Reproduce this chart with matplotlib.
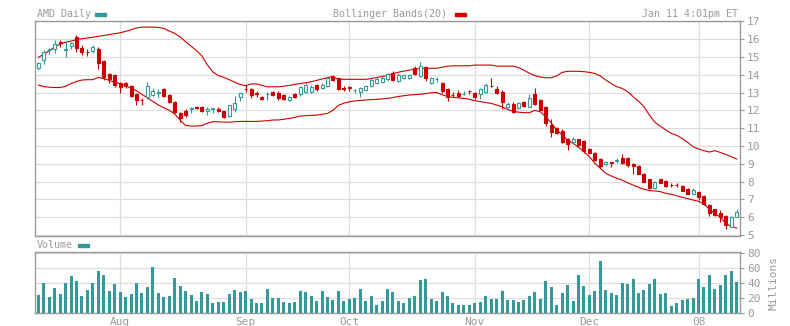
import matplotlib.pyplot as plt

# AMD daily candles, 11 Jul 2007 .. 11 Jan 2008 (one row per trading day)
opens = [14.39, 14.82, 15.36, 15.42, 15.82, 15.40, 15.63, 16.09, 15.50, 15.30,
         15.35, 15.42, 14.77, 14.04, 13.98, 13.51, 13.51, 13.38, 12.92, 12.60,
         12.77, 12.86, 12.98, 13.18, 12.86, 12.49, 11.86, 11.96, 12.08, 12.18,
         12.20, 11.96, 12.08, 12.10, 11.94, 11.68, 12.05, 12.73, 13.22, 13.18,
         12.97, 12.77, 12.90, 13.04, 12.95, 12.86, 12.58, 12.90, 12.90, 13.05,
         13.05, 13.42, 13.28, 13.36, 13.92, 13.79, 13.26, 13.30, 13.12, 13.05,
         13.14, 13.36, 13.51, 13.61, 13.74, 14.11, 13.64, 13.79, 13.80, 14.39,
         13.92, 14.45, 13.55, 13.75, 13.51, 13.18, 12.88, 12.95, 12.90, 13.10,
         12.99, 12.90, 13.05, 13.38, 13.18, 13.05, 12.17, 12.35, 12.11, 12.49,
         12.20, 12.89, 12.58, 12.20, 11.18, 10.99, 10.86, 10.37, 10.22, 10.37,
         10.30, 9.85, 9.63, 9.27, 8.97, 9.08, 9.16, 9.31, 9.31, 8.97,
         8.88, 8.43, 8.13, 7.66, 8.13, 8.06, 7.83, 7.84, 7.76, 7.57,
         7.29, 7.44, 7.20, 6.69, 6.45, 6.22, 6.07, 5.48, 6.04]
highs = [14.73, 15.38, 15.51, 15.94, 15.94, 15.91, 15.85, 16.21, 15.64, 15.42,
         15.66, 15.57, 14.80, 14.07, 14.04, 13.60, 13.60, 13.42, 12.95, 12.71,
         13.59, 13.27, 13.18, 13.23, 12.90, 12.54, 11.90, 12.10, 12.20, 12.25,
         12.26, 12.20, 12.15, 12.20, 11.97, 12.28, 12.80, 13.00, 13.42, 13.23,
         13.10, 12.80, 13.04, 13.06, 13.10, 12.90, 12.80, 12.95, 13.36, 13.51,
         13.42, 13.48, 13.55, 13.85, 13.94, 13.83, 13.36, 13.38, 13.20, 13.30,
         13.42, 13.85, 13.85, 13.92, 14.11, 14.20, 14.07, 14.04, 14.04, 14.48,
         14.73, 14.48, 13.85, 13.85, 13.60, 13.23, 13.05, 13.14, 13.10, 13.14,
         13.05, 13.23, 13.51, 13.79, 13.36, 13.14, 12.49, 12.49, 12.46, 12.54,
         12.89, 13.27, 12.64, 12.25, 11.50, 11.05, 10.93, 10.43, 10.49, 10.41,
         10.34, 9.89, 9.68, 9.31, 9.18, 9.08, 9.31, 9.55, 9.40, 9.07,
         8.92, 8.47, 8.17, 8.06, 8.17, 8.09, 7.94, 7.94, 7.81, 7.63,
         7.63, 7.48, 7.24, 6.73, 6.49, 6.41, 6.11, 6.07, 6.49]
lows = [14.26, 14.60, 15.16, 15.23, 15.57, 14.97, 15.42, 15.29, 15.10, 15.05,
        15.23, 14.30, 13.70, 13.55, 13.29, 13.00, 13.23, 12.77, 12.30, 12.30,
        12.64, 12.80, 12.73, 12.73, 12.43, 11.83, 11.35, 11.60, 11.85, 12.05,
        11.92, 11.75, 11.85, 11.90, 11.55, 11.64, 11.93, 12.55, 13.04, 12.71,
        12.77, 12.58, 12.60, 12.80, 12.60, 12.58, 12.54, 12.70, 12.82, 12.95,
        12.95, 13.10, 13.18, 13.33, 13.64, 13.14, 13.10, 13.10, 13.00, 12.76,
        13.09, 13.33, 13.46, 13.55, 13.64, 13.64, 13.60, 13.74, 13.74, 13.98,
        13.85, 13.64, 13.48, 13.60, 12.99, 12.54, 12.73, 12.76, 12.84, 12.90,
        12.64, 12.64, 12.95, 13.29, 12.90, 12.05, 12.11, 11.87, 12.05, 12.20,
        12.17, 12.30, 11.96, 11.14, 10.49, 10.67, 10.15, 9.78, 10.15, 9.96,
        9.63, 9.59, 9.16, 8.75, 8.88, 8.80, 9.03, 8.99, 8.80, 8.43,
        8.41, 7.96, 7.59, 7.59, 7.91, 7.68, 7.68, 7.68, 7.48, 7.29,
        7.25, 6.97, 6.69, 6.07, 6.07, 5.76, 5.33, 5.44, 6.00]
closes = [14.67, 15.29, 15.46, 15.70, 15.78, 15.43, 15.76, 15.48, 15.29, 15.27,
          15.53, 14.67, 13.85, 13.74, 13.42, 13.29, 13.36, 12.82, 12.58, 12.56,
          13.38, 13.08, 13.00, 12.80, 12.49, 11.89, 11.58, 11.74, 12.12, 12.15,
          11.98, 12.10, 12.12, 11.95, 11.62, 12.28, 12.39, 13.00, 13.17, 12.86,
          12.93, 12.62, 12.94, 12.86, 12.70, 12.64, 12.73, 12.77, 13.33, 13.42,
          13.33, 13.18, 13.45, 13.79, 13.70, 13.18, 13.21, 13.26, 13.15, 13.24,
          13.36, 13.70, 13.74, 13.83, 14.04, 13.70, 13.98, 13.98, 13.98, 14.04,
          14.50, 13.79, 13.79, 13.78, 13.10, 12.73, 12.84, 12.80, 12.93, 13.06,
          12.73, 13.18, 13.42, 13.34, 12.99, 12.49, 12.34, 11.92, 12.39, 12.24,
          12.67, 12.35, 12.02, 11.27, 10.80, 10.71, 10.21, 10.11, 10.37, 10.06,
          9.74, 9.63, 9.21, 8.90, 9.12, 9.03, 9.20, 9.03, 8.93, 8.88,
          8.43, 8.00, 7.66, 8.00, 7.94, 7.76, 7.80, 7.80, 7.50, 7.31,
          7.53, 7.12, 6.75, 6.26, 6.13, 6.00, 5.57, 6.00, 6.32]

# Bollinger Bands(20)
upper_band = [14.97, 15.14, 15.35, 15.55, 15.72, 15.82, 15.88, 15.97, 16.02, 16.06,
              16.10, 16.15, 16.20, 16.25, 16.30, 16.35, 16.43, 16.52, 16.62, 16.67,
              16.67, 16.67, 16.65, 16.60, 16.45, 16.32, 16.12, 15.85, 15.60, 15.35,
              15.05, 14.55, 14.15, 13.95, 13.85, 13.72, 13.58, 13.45, 13.38, 13.48,
              13.48, 13.40, 13.32, 13.32, 13.32, 13.35, 13.40, 13.46, 13.50, 13.55,
              13.60, 13.68, 13.76, 13.84, 13.88, 13.74, 13.74, 13.74, 13.74, 13.74,
              13.74, 13.78, 13.84, 13.90, 13.95, 14.05, 14.14, 14.20, 14.26, 14.30,
              14.36, 14.36, 14.36, 14.36, 14.42, 14.48, 14.50, 14.50, 14.50, 14.50,
              14.54, 14.54, 14.54, 14.54, 14.48, 14.48, 14.48, 14.48, 14.40, 14.25,
              14.08, 13.95, 13.87, 13.83, 13.83, 13.93, 14.13, 14.19, 14.19, 14.19,
              14.17, 14.13, 14.07, 13.93, 13.70, 13.51, 13.33, 13.23, 13.05, 12.77,
              12.52, 12.20, 11.74, 11.33, 11.12, 10.90, 10.71, 10.60, 10.43, 10.20,
              9.96, 9.83, 9.74, 9.66, 9.74, 9.64, 9.53, 9.40, 9.27]
lower_band = [13.42, 13.33, 13.30, 13.28, 13.28, 13.35, 13.50, 13.62, 13.70, 13.72,
              13.72, 13.85, 13.78, 13.68, 13.58, 13.50, 13.38, 13.25, 13.10, 12.90,
              12.70, 12.50, 12.30, 12.15, 12.00, 11.80, 11.45, 11.15, 11.12, 11.12,
              11.15, 11.28, 11.36, 11.36, 11.34, 11.34, 11.36, 11.38, 11.38, 11.38,
              11.38, 11.40, 11.42, 11.46, 11.46, 11.50, 11.55, 11.60, 11.68, 11.70,
              11.72, 11.73, 11.78, 11.83, 12.00, 12.28, 12.40, 12.48, 12.53, 12.56,
              12.58, 12.60, 12.62, 12.64, 12.67, 12.72, 12.78, 12.82, 12.86, 12.88,
              12.90, 12.94, 12.99, 13.00, 12.88, 12.78, 12.72, 12.70, 12.67, 12.62,
              12.54, 12.49, 12.44, 12.39, 12.30, 12.20, 12.05, 11.95, 11.90, 11.87,
              11.87, 12.00, 11.92, 11.64, 11.30, 10.90, 10.62, 10.34, 10.15, 9.93,
              9.68, 9.40, 9.03, 8.75, 8.47, 8.32, 8.19, 8.09, 7.94, 7.81,
              7.68, 7.57, 7.50, 7.48, 7.44, 7.35, 7.29, 7.21, 7.12, 7.05,
              6.97, 6.90, 6.75, 6.45, 6.22, 6.00, 5.66, 5.48, 5.40]

# volume, millions of shares
volume = [24.0, 40.6, 21.4, 33.2, 25.3, 39.7, 48.9, 42.4, 22.7, 30.6,
          39.7, 55.5, 50.2, 29.3, 38.4, 27.9, 21.4, 25.3, 39.7, 26.6,
          34.5, 60.7, 26.6, 21.4, 22.7, 46.3, 35.8, 29.3, 24.0, 16.2,
          27.9, 25.3, 13.5, 14.8, 14.8, 25.3, 30.6, 27.9, 29.3, 18.8,
          13.5, 13.5, 31.9, 20.1, 20.1, 14.8, 13.5, 14.8, 29.3, 27.9,
          22.7, 16.2, 29.3, 21.4, 17.5, 29.3, 16.2, 18.8, 20.1, 31.9,
          16.2, 22.7, 10.9, 16.2, 31.9, 27.9, 16.2, 13.5, 20.1, 22.7,
          43.7, 45.0, 18.8, 16.2, 27.9, 22.7, 13.5, 10.9, 10.9, 10.9,
          13.5, 14.8, 22.7, 18.8, 18.8, 29.3, 17.5, 17.5, 14.8, 17.5,
          22.7, 27.9, 18.8, 42.4, 34.5, 10.9, 26.6, 37.1, 16.2, 50.2,
          35.8, 24.0, 29.3, 68.6, 30.6, 26.6, 24.0, 39.7, 38.4, 45.0,
          26.6, 30.6, 38.4, 45.0, 25.3, 26.6, 9.6, 13.5, 17.5, 18.8,
          20.1, 45.0, 34.5, 50.2, 31.9, 37.1, 50.2, 55.5, 41.0]

# first trading day of each month (index into the lists above)
month_idx = [15, 38, 57, 80, 101, 121]
month_labels = ['Aug', 'Sep', 'Oct', 'Nov', 'Dec', '08']

price_ticks = list(range(5, 18))
volume_ticks = [0, 20, 40, 60, 80]

UP = '#339999'
DOWN = '#cc0000'
GRAY = '#999999'
GRID = '#dddddd'
FONT = 'DejaVu Sans Mono'

plt.rcParams['font.family'] = FONT

fig = plt.figure(figsize=(7.9, 3.26), dpi=100)
ax = fig.add_axes([35 / 790, 1 - 235.5 / 326, 705 / 790, 215 / 326])
axv = fig.add_axes([35 / 790, 1 - 313.3 / 326, 705 / 790, 61 / 326])

n = len(closes)
days = list(range(n))

# candles: hollow teal when close >= open, filled red otherwise
for i in days:
    up = closes[i] >= opens[i]
    col = UP if up else DOWN
    ax.vlines(i, lows[i], highs[i], color=col, linewidth=0.8, zorder=3)
    lo = min(opens[i], closes[i])
    h = max(abs(closes[i] - opens[i]), 0.03)
    ax.bar(i, h, bottom=lo, width=0.55,
           facecolor='white' if up else DOWN, edgecolor=col,
           linewidth=0.8, zorder=4)

ax.plot(days, upper_band, color=DOWN, linewidth=0.8, zorder=2)
ax.plot(days, lower_band, color=DOWN, linewidth=0.8, zorder=2)

# volume bars
axv.bar(days, volume, width=0.55, color=UP, zorder=3)

for a in (ax, axv):
    a.set_xlim(-0.6, 128.6)
    a.set_xticks(month_idx)
    a.grid(True, color=GRID, linewidth=0.9, zorder=0)
    a.set_axisbelow(True)
    for s in a.spines.values():
        s.set_color(GRAY)
        s.set_linewidth(1.0)
    a.yaxis.tick_right()
    a.tick_params(axis='y', colors=GRAY, labelcolor=GRAY, length=3,
                  width=0.8, labelsize=8, pad=2)
    a.tick_params(axis='x', length=0, colors=GRAY, labelcolor=GRAY,
                  labelsize=8, pad=3)

ax.set_ylim(4.98, 17.04)
ax.set_yticks(price_ticks)
ax.set_xticklabels([])

axv.set_ylim(0, 80.5)
axv.set_yticks(volume_ticks)
axv.set_xticklabels(month_labels)
axv.set_ylabel('Millions', color=GRAY, fontsize=8, labelpad=6)
axv.yaxis.set_label_position('right')

# header texts and legend swatches
fig.text(37 / 790, 1 - 14 / 326, 'AMD Daily', color=GRAY, fontsize=7.2, va='center')
fig.patches.append(plt.Rectangle((95 / 790, 1 - 15.5 / 326), 11 / 790, 3 / 326,
                                 color=UP, transform=fig.transFigure, figure=fig))
fig.text(447 / 790, 1 - 14 / 326, 'Bollinger Bands(20)', color=GRAY, fontsize=7.2,
         va='center', ha='right')
fig.patches.append(plt.Rectangle((455 / 790, 1 - 15.5 / 326), 11 / 790, 3 / 326,
                                 color=DOWN, transform=fig.transFigure, figure=fig))
fig.text(738 / 790, 1 - 14 / 326, 'Jan 11 4:01pm ET', color=GRAY, fontsize=7.2,
         va='center', ha='right')
fig.text(37 / 790, 1 - 245.5 / 326, 'Volume', color=GRAY, fontsize=7.2, va='center')
fig.patches.append(plt.Rectangle((78 / 790, 1 - 247 / 326), 11 / 790, 3 / 326,
                                 color=UP, transform=fig.transFigure, figure=fig))

fig.savefig('out.png', dpi=100, facecolor='white')
